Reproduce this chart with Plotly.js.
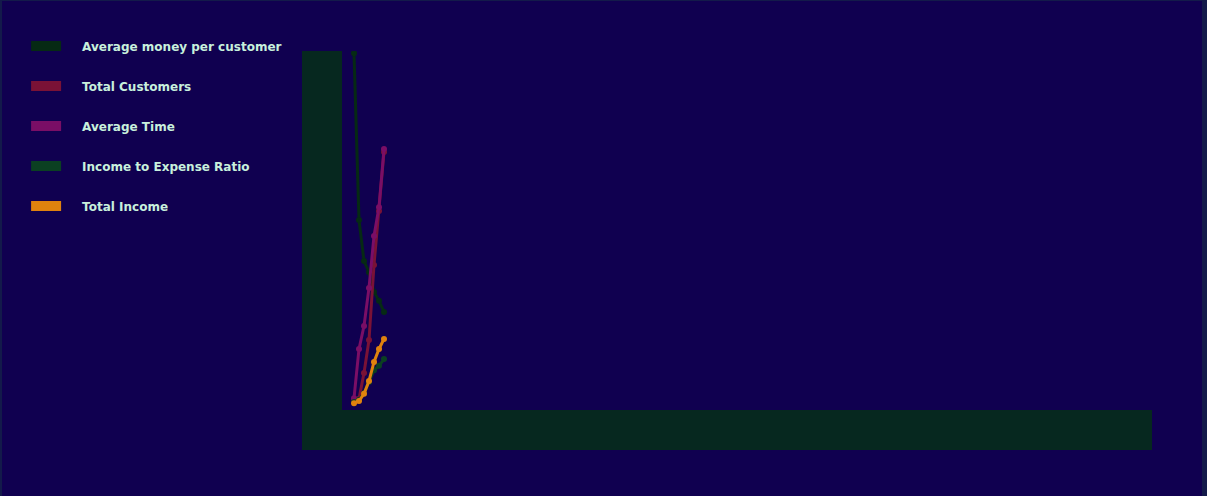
<!DOCTYPE html>
<html>
<head>
<meta charset="utf-8">
<script src="https://cdn.plot.ly/plotly-3.0.1.min.js"></script>
<style>
  html, body { margin: 0; padding: 0; background: #131a4a; }
  #chart { position: absolute; left: 2px; top: 1px; width: 1200px; height: 495px; }
</style>
</head>
<body>
<div id="chart"></div>
<script>
// ---- data ----
const periods = [1, 2, 3, 4, 5, 6, 7];
const seriesNames = ["Average money per customer", "Total Customers", "Average Time", "Income to Expense Ratio", "Total Income"];
const avgMoneyPerCustomer = [99.4, 52.9, 41.5, 38.4, 32.9, 30.4, 27.3];
const totalCustomers = [2.5, 3.1, 10.3, 19.5, 40.4, 55.4, 71.9];
const averageTime = [3.3, 17.0, 23.4, 34.0, 48.5, 56.5, 72.7];
const incomeToExpenseRatio = [2.2, 2.8, 4.7, 7.8, 11.1, 12.3, 14.2];
const totalIncome = [1.9, 2.5, 4.5, 8.1, 13.4, 17.0, 19.8];

const seriesValues = [avgMoneyPerCustomer, totalCustomers, averageTime, incomeToExpenseRatio, totalIncome];
const seriesColors = ["#062a14", "#7a1236", "#7a0e66", "#0b4022", "#e0820e"];

const traces = [];
seriesValues.forEach((vals, i) => {
  traces.push({
    x: periods, y: vals, type: "scatter", mode: "lines+markers",
    name: seriesNames[i], legendgroup: "g" + i, showlegend: false,
    line: { color: seriesColors[i], width: 3 },
    marker: { color: seriesColors[i], size: 6 },
    hoverinfo: "x+y+name"
  });
});
seriesValues.forEach((vals, i) => {
  traces.push({
    x: [null], y: [null], type: "scatter", mode: "lines",
    name: seriesNames[i], legendgroup: "g" + i, showlegend: true,
    line: { color: seriesColors[i], width: 10, dash: "30px,40px" }
  });
});

const layout = {
  width: 1200, height: 495,
  paper_bgcolor: "#100050",
  plot_bgcolor: "#100050",
  margin: { l: 340, r: 50, t: 50, b: 86, pad: 0 },
  showlegend: true,
  legend: {
    x: -0.390, y: 1.0544, xanchor: "left", yanchor: "top",
    traceorder: "grouped", tracegroupgap: 21, itemwidth: 46,
    font: { family: "DejaVu Sans, Verdana, sans-serif", size: 12, color: "#c8f0dc", weight: "bold" },
    bgcolor: "rgba(0,0,0,0)"
  },
  xaxis: {
    range: [-1.4, 160.6], showline: true, linewidth: 40, linecolor: "#06281f",
    showgrid: false, zeroline: false, showticklabels: false, ticks: ""
  },
  yaxis: {
    range: [0, 100], showline: true, linewidth: 40, linecolor: "#06281f",
    showgrid: false, zeroline: false, showticklabels: false, ticks: ""
  }
};

Plotly.newPlot("chart", traces, layout, { displayModeBar: false });
</script>
</body>
</html>
